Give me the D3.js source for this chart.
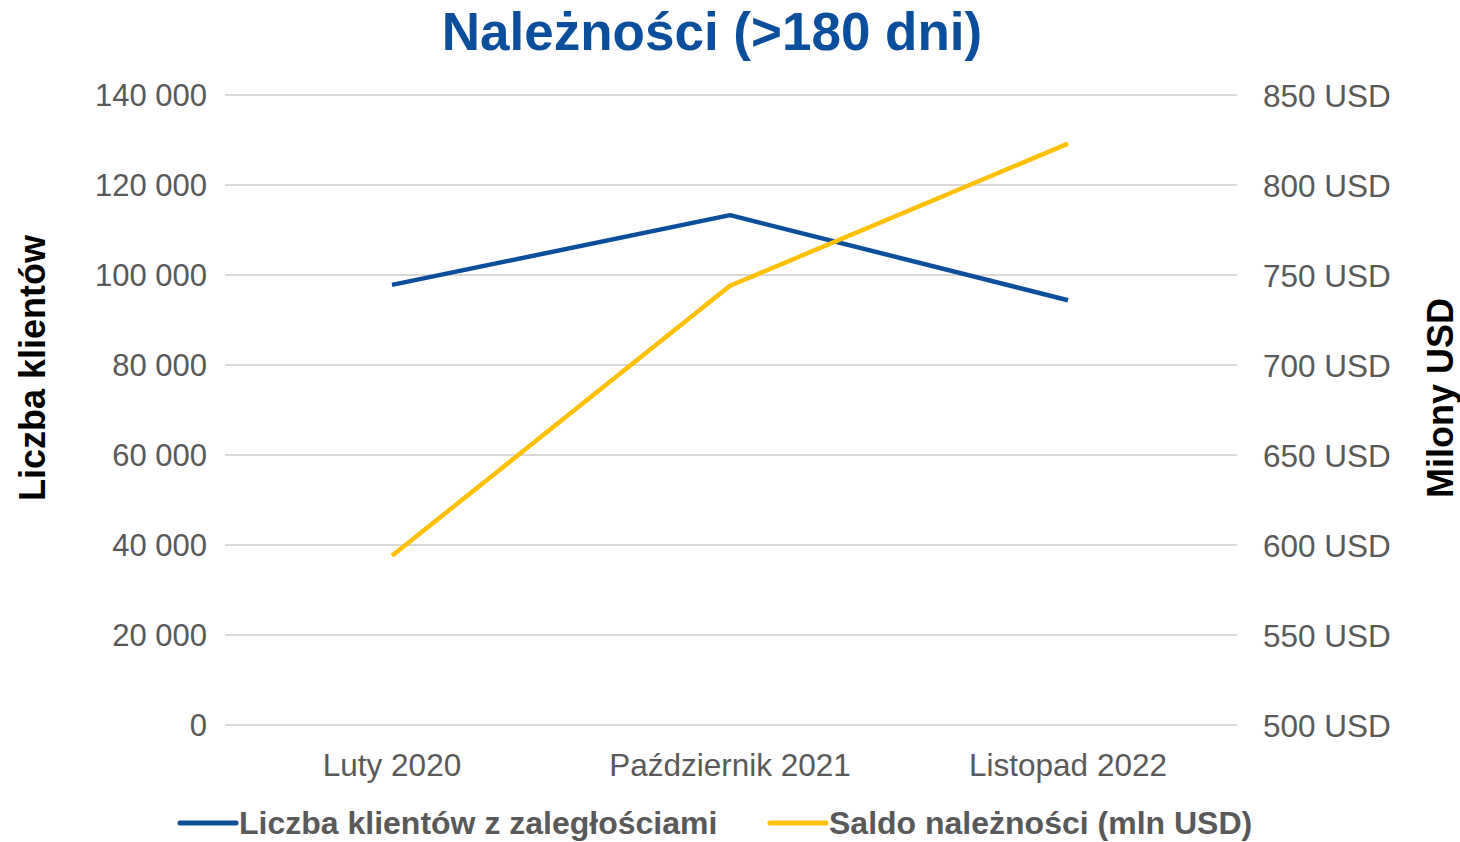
<!DOCTYPE html>
<html>
<head>
<meta charset="utf-8">
<script src="https://cdn.jsdelivr.net/npm/d3@7"></script>
<style>
  body { margin: 0; background: #fff; }
  text { font-family: "Liberation Sans", Arial, sans-serif; }
</style>
</head>
<body>
<svg id="chart"></svg>
<script>
// chart data
const categories = ["Luty 2020", "Październik 2021", "Listopad 2022"];
const clients = [97800, 113300, 94400];      // Liczba klientów z zaległościami
const balance = [594, 744, 823];             // Saldo należności (mln USD)
const leftTicks = [0, 20000, 40000, 60000, 80000, 100000, 120000, 140000];
const rightTicks = [500, 550, 600, 650, 700, 750, 800, 850];
const seriesNames = ["Liczba klientów z zaległościami", "Saldo należności (mln USD)"];

const width = 1460, height = 842;
const blue = "#0b4f9c", yellow = "#ffc000", grey = "#595959";

const svg = d3.select("#chart").attr("width", width).attr("height", height);

const x = d3.scaleBand().domain(categories).range([223, 1237]);
const yL = d3.scaleLinear().domain([0, 140000]).range([725, 95]);
const yR = d3.scaleLinear().domain([500, 850]).range([725, 95]);

const fmt = d => d3.format(",")(d).replace(/,/g, " ");

// gridlines
svg.append("g")
  .selectAll("line")
  .data(leftTicks)
  .enter()
  .append("line")
    .attr("x1", 225).attr("x2", 1237)
    .attr("y1", d => yL(d)).attr("y2", d => yL(d))
    .attr("stroke", "#d9d9d9")
    .attr("stroke-width", 2);

// left axis
const axL = svg.append("g")
  .attr("transform", "translate(210,0)")
  .call(d3.axisLeft(yL).tickValues(leftTicks).tickFormat(fmt).tickSize(0));
axL.select(".domain").remove();
axL.selectAll("text")
  .attr("fill", grey).style("font-size", "31px").attr("dy", "0.35em");

// right axis
const axR = svg.append("g")
  .attr("transform", "translate(1260,0)")
  .call(d3.axisRight(yR).tickValues(rightTicks).tickFormat(d => d + " USD").tickSize(0));
axR.select(".domain").remove();
axR.selectAll("text")
  .attr("fill", grey).style("font-size", "31.5px").attr("dy", "0.35em");

// bottom axis
const axB = svg.append("g")
  .attr("transform", "translate(0,725)")
  .call(d3.axisBottom(x).tickSize(0));
axB.select(".domain").remove();
axB.selectAll("text")
  .attr("fill", grey).style("font-size", "31.5px").attr("y", 51).attr("dy", "0");

// lines
const lineL = d3.line().x((d, i) => x(categories[i]) + x.bandwidth() / 2).y(d => yL(d));
const lineR = d3.line().x((d, i) => x(categories[i]) + x.bandwidth() / 2).y(d => yR(d));

svg.append("path")
  .datum(clients)
  .attr("d", lineL)
  .attr("fill", "none")
  .attr("stroke", blue)
  .attr("stroke-width", 4.5)
  .attr("stroke-linejoin", "round");

svg.append("path")
  .datum(balance)
  .attr("d", lineR)
  .attr("fill", "none")
  .attr("stroke", yellow)
  .attr("stroke-width", 4.5)
  .attr("stroke-linejoin", "round");

// title
svg.append("text")
  .attr("x", 712).attr("y", 50)
  .attr("text-anchor", "middle")
  .attr("fill", blue)
  .style("font-size", "53px").style("font-weight", "bold")
  .text("Należności (>180 dni)");

// axis titles
svg.append("text")
  .attr("transform", "translate(45,368) rotate(-90)")
  .attr("text-anchor", "middle")
  .style("font-size", "36px").style("font-weight", "bold")
  .text("Liczba klientów");

svg.append("text")
  .attr("transform", "translate(1453,398) rotate(-90)")
  .attr("text-anchor", "middle")
  .style("font-size", "36px").style("font-weight", "bold")
  .text("Milony USD");

// legend
const legend = svg.append("g").attr("transform", "translate(0,823)");
const legendX = [180, 770];
const colors = [blue, yellow];
seriesNames.forEach((name, i) => {
  legend.append("line")
    .attr("x1", legendX[i]).attr("x2", legendX[i] + 56)
    .attr("y1", 0).attr("y2", 0)
    .attr("stroke", colors[i]).attr("stroke-width", 5)
    .attr("stroke-linecap", "round");
  legend.append("text")
    .attr("x", legendX[i] + 59).attr("y", 0).attr("dy", "0.35em")
    .attr("fill", grey)
    .style("font-size", "32px").style("font-weight", "bold")
    .text(name);
});
</script>
</body>
</html>
